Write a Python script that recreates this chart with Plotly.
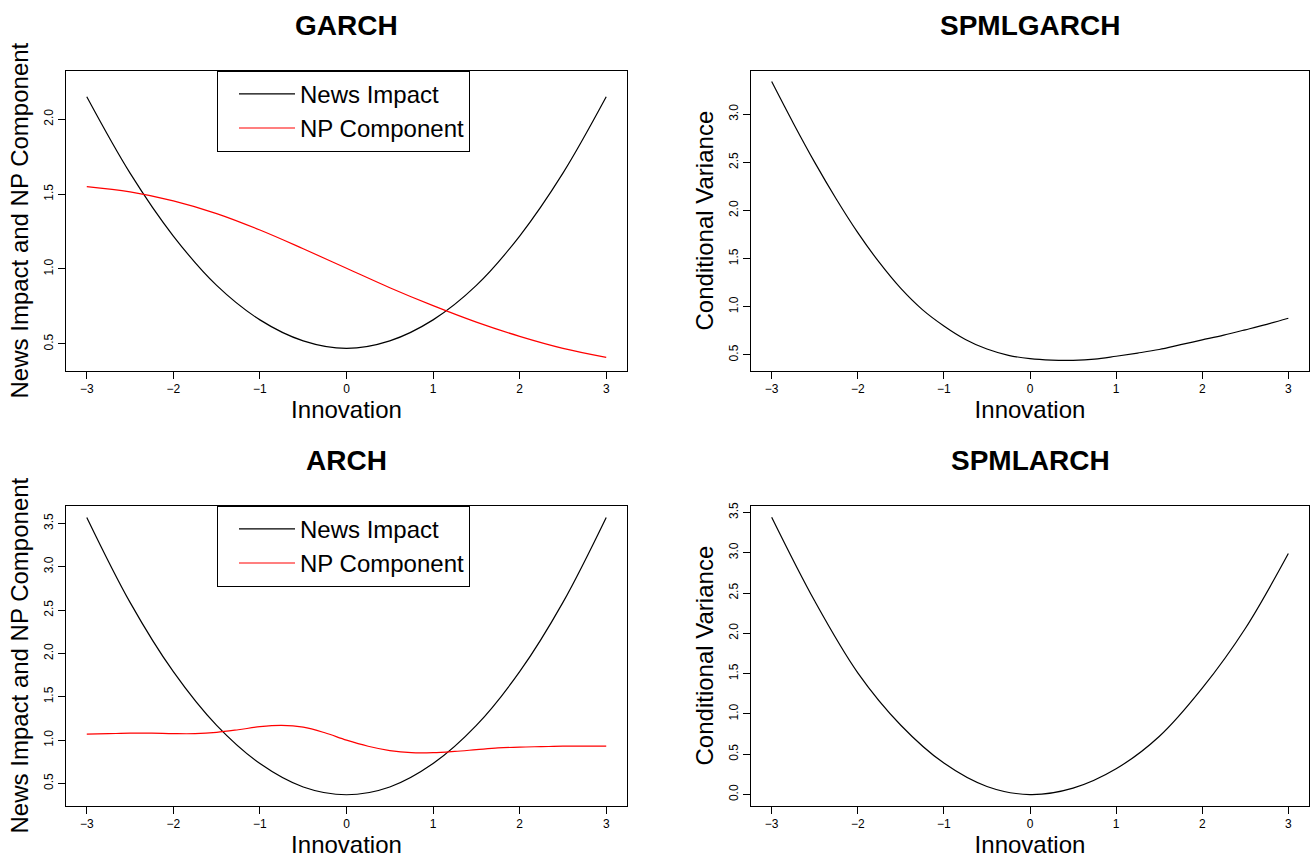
import plotly.graph_objects as go
from plotly.subplots import make_subplots

# ---- data ----
innovation = [-3, -2.5, -2, -1.5, -1, -0.5, 0, 0.5, 1, 1.5, 2, 2.5, 3]
innovation_fine = [-3, -2.75, -2.5, -2.25, -2, -1.75, -1.5, -1.25, -1, -0.75, -0.5, -0.25,
                   0, 0.25, 0.5, 0.75, 1, 1.25, 1.5, 1.75, 2, 2.25, 2.5, 2.75, 3]

garch_news = [2.15, 1.64, 1.22, 0.89, 0.66, 0.52, 0.47, 0.52, 0.66, 0.89, 1.22, 1.64, 2.15]
garch_np = [1.55, 1.515, 1.455, 1.37, 1.26, 1.135, 1.005, 0.875, 0.755, 0.645, 0.55, 0.47, 0.41]

arch_news = [3.57, 2.59, 1.79, 1.17, 0.73, 0.46, 0.37, 0.46, 0.73, 1.17, 1.79, 2.59, 3.57]
arch_np = [1.07, 1.075, 1.08, 1.08, 1.075, 1.075, 1.09, 1.12, 1.155, 1.17, 1.15, 1.085,
           1.0, 0.93, 0.88, 0.855, 0.855, 0.87, 0.89, 0.91, 0.92, 0.925, 0.93, 0.93, 0.93]

spmlgarch_var = [3.34, 2.91, 2.50, 2.12, 1.77, 1.46, 1.19, 0.97, 0.80, 0.66, 0.56, 0.495,
                 0.46, 0.445, 0.443, 0.455, 0.485, 0.518, 0.555, 0.605, 0.655, 0.705, 0.76,
                 0.817, 0.88]
spmlarch_var = [3.44, 2.40, 1.51, 0.86, 0.39, 0.10, 0.0, 0.08, 0.32, 0.72, 1.32, 2.06, 2.99]

titles = ["GARCH", "SPMLGARCH", "ARCH", "SPMLARCH"]
x_ticks = [-3, -2, -1, 0, 1, 2, 3]
y_ticks = [[0.5, 1.0, 1.5, 2.0], [0.5, 1.0, 1.5, 2.0, 2.5, 3.0],
           [0.5, 1.0, 1.5, 2.0, 2.5, 3.0, 3.5], [0.0, 0.5, 1.0, 1.5, 2.0, 2.5, 3.0, 3.5]]
y_titles = ["News Impact and NP Component", "Conditional Variance",
            "News Impact and NP Component", "Conditional Variance"]
y_ranges = [[0.322, 2.324], [0.337, 3.453], [0.246, 3.705], [-0.136, 3.583]]

W, H = 1312, 859
FONT = "Liberation Sans"

fig = make_subplots(rows=2, cols=2)

line = dict(width=1.2, shape="spline")
fig.add_trace(go.Scatter(x=innovation, y=garch_news, mode="lines", name="News Impact",
                         line=dict(color="black", **line), legend="legend"), row=1, col=1)
fig.add_trace(go.Scatter(x=innovation, y=garch_np, mode="lines", name="NP Component",
                         line=dict(color="red", **line), legend="legend"), row=1, col=1)
fig.add_trace(go.Scatter(x=innovation_fine, y=spmlgarch_var, mode="lines", showlegend=False,
                         line=dict(color="black", **line)), row=1, col=2)
fig.add_trace(go.Scatter(x=innovation, y=arch_news, mode="lines", name="News Impact",
                         line=dict(color="black", **line), legend="legend2"), row=2, col=1)
fig.add_trace(go.Scatter(x=innovation_fine, y=arch_np, mode="lines", name="NP Component",
                         line=dict(color="red", **line), legend="legend2"), row=2, col=1)
fig.add_trace(go.Scatter(x=innovation, y=spmlarch_var, mode="lines", showlegend=False,
                         line=dict(color="black", **line)), row=2, col=2)

col_px = [(66, 627), (751, 1309)]
row_px = [(70.7, 370.5), (505.7, 805.5)]

annotations = []
k = 0
for r in range(2):
    for c in range(2):
        idx = k + 1
        xd = [col_px[c][0] / W, col_px[c][1] / W]
        yd = [1 - row_px[r][1] / H, 1 - row_px[r][0] / H]
        xa = "xaxis" if idx == 1 else f"xaxis{idx}"
        ya = "yaxis" if idx == 1 else f"yaxis{idx}"
        fig.layout[xa].update(
            domain=xd, range=[-3.24, 3.24], tickvals=x_ticks, ticks="outside", ticklen=7,
            tickwidth=1, tickcolor="black", showline=True, linecolor="black", linewidth=1,
            mirror=True, showgrid=False, zeroline=False, automargin=False,
            tickfont=dict(family=FONT, size=12, color="black"),
            title=dict(text="Innovation", font=dict(family=FONT, size=24, color="black"), standoff=2),
        )
        fig.layout[ya].update(
            domain=yd, range=y_ranges[k], tickvals=y_ticks[k], tickformat=".1f",
            ticks="outside", ticklen=7, tickwidth=1, tickcolor="black", tickangle=-90,
            showline=True, linecolor="black", linewidth=1, mirror=True, showgrid=False,
            zeroline=False, automargin=False, tickfont=dict(family=FONT, size=12, color="black"),
            title=dict(text=y_titles[k], font=dict(family=FONT, size=24, color="black"), standoff=6),
        )
        annotations.append(dict(
            text=f"<b>{titles[k]}</b>", xref="paper", yref="paper",
            x=(xd[0] + xd[1]) / 2, y=1 - (row_px[r][0] - 45.5) / H,
            xanchor="center", yanchor="middle", showarrow=False,
            font=dict(family=FONT, size=28, color="black"),
        ))
        k += 1

legend_style = dict(
    xanchor="left", yanchor="top", bgcolor="white", bordercolor="black", borderwidth=1,
    font=dict(family=FONT, size=24, color="black"), itemwidth=56, indentation=16,
)
fig.update_layout(
    width=W, height=H, margin=dict(l=0, r=0, t=0, b=0, autoexpand=False),
    paper_bgcolor="white", plot_bgcolor="white",
    annotations=annotations,
    legend=dict(x=217 / W, y=1 - 70.7 / H, **legend_style),
    legend2=dict(x=217 / W, y=1 - 505.7 / H, **legend_style),
)

fig.write_html("out.html", config={"displayModeBar": False},
               post_script="document.body.style.margin='0';")
